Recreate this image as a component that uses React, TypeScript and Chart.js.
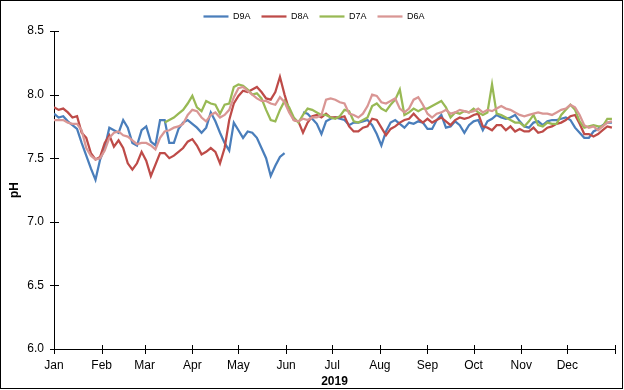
import React, { useEffect, useRef } from 'react';
import { Chart, registerables } from 'chart.js';

Chart.register(...registerables);

// ---- data ----
const STEP_DAYS = 3; // one reading every 3 days, starting Jan 1 (day 0)
const MONTH_LABELS = ['Jan', 'Feb', 'Mar', 'Apr', 'May', 'Jun', 'Jul', 'Aug', 'Sep', 'Oct', 'Nov', 'Dec'];
const MONTH_START_DAYS = [0, 31, 59, 90, 120, 151, 181, 212, 243, 273, 304, 334, 365];
const Y_TICKS = [6.0, 6.5, 7.0, 7.5, 8.0, 8.5];
const X_TITLE = '2019';
const Y_TITLE = 'pH';
const SERIES_NAMES = ['D9A', 'D8A', 'D7A', 'D6A'];

const D9A: (number | null)[] = [
  7.85, 7.82, 7.83, 7.79, 7.76, 7.73, 7.62, 7.52, 7.42, 7.33,
  7.49, 7.58, 7.74, 7.72, 7.70, 7.80, 7.74, 7.62, 7.60, 7.72,
  7.75, 7.63, 7.60, 7.80, 7.80, 7.62, 7.62, 7.73, 7.78, 7.80,
  7.77, 7.74, 7.70, 7.74, 7.86, 7.79, 7.70, 7.62, 7.56, 7.78,
  7.72, 7.66, 7.71, 7.70, 7.66, 7.58, 7.50, 7.36, 7.44, 7.51,
  7.54, null, null, null,
  7.86, 7.85, 7.81, 7.77, 7.69, 7.79, 7.81, 7.82, 7.81, 7.80,
  7.76, 7.78, 7.78, 7.79, 7.80, 7.76, 7.69, 7.60, 7.71, 7.78,
  7.80, 7.77, 7.74, 7.78, 7.77, 7.79, 7.78, 7.73, 7.73, 7.80,
  7.84, 7.74, 7.75, 7.79, 7.76, 7.70, 7.76, 7.79, 7.80, 7.72,
  7.79, 7.81, 7.84, 7.82, 7.81, 7.82, 7.84, 7.79, 7.75, 7.74,
  7.78, 7.79, 7.76, 7.79, 7.80, 7.80, 7.81, 7.82, 7.80, 7.74,
  7.70, 7.66, 7.66, 7.71, 7.73, 7.76, 7.78, 7.78,
];

const D8A: number[] = [
  7.90, 7.88, 7.89, 7.86, 7.82, 7.83, 7.70, 7.66, 7.54, 7.49,
  7.51, 7.62, 7.68, 7.59, 7.64, 7.58, 7.46, 7.41, 7.46, 7.55,
  7.48, 7.36, 7.45, 7.54, 7.54, 7.50, 7.52, 7.55, 7.58, 7.63,
  7.65, 7.60, 7.53, 7.55, 7.58, 7.55, 7.46, 7.58, 7.80, 7.93,
  7.99, 8.03, 8.02, 8.04, 8.06, 8.02, 7.97, 7.96, 8.02, 8.14,
  8.00, 7.88, 7.80, 7.79, 7.70, 7.78, 7.83, 7.84, 7.82, 7.85,
  7.82, 7.82, 7.82, 7.83, 7.75, 7.71, 7.71, 7.74, 7.75, 7.81,
  7.80, 7.74, 7.68, 7.73, 7.75, 7.78, 7.80, 7.81, 7.85, 7.81,
  7.78, 7.81, 7.78, 7.80, 7.82, 7.79, 7.76, 7.80, 7.82, 7.81,
  7.82, 7.84, 7.85, 7.75, 7.74, 7.72, 7.76, 7.76, 7.72, 7.75,
  7.71, 7.73, 7.71, 7.71, 7.74, 7.70, 7.71, 7.74, 7.75, 7.77,
  7.78, 7.80, 7.83, 7.84, 7.77, 7.69, 7.69, 7.67, 7.69, 7.72,
  7.75, 7.74,
];

const D7A: (number | null)[] = [
  null, null, null, null, null, null, null, null, null, null,
  null, null, null, null, null, null, null, null, null, null,
  null, null, null, null,
  7.78, 7.80, 7.82, 7.85, 7.88, 7.93, 7.99, 7.90, 7.87, 7.95,
  7.93, 7.92, 7.85, 7.92, 7.93, 8.06, 8.08, 8.07, 8.04, 8.00,
  8.01, 7.97, 7.88, 7.80, 7.79, 7.88, 7.95, 7.90, 7.82, 7.78,
  7.84, 7.89, 7.88, 7.86, 7.84, 7.84, 7.82, 7.81, 7.83, 7.88,
  7.87, 7.79, 7.78, 7.80, 7.82, 7.91, 7.93, 7.89, 7.87, 7.92,
  7.96, 8.04, 7.84, 7.86, 7.89, 7.87, 7.89, 7.89, 7.91, 7.93,
  7.95, 7.90, 7.82, 7.86, 7.85, 7.87, 7.86, 7.89, 7.86, 7.84,
  7.86, 8.08, 7.85, 7.84, 7.82, 7.80, 7.78, 7.78, 7.75, 7.79,
  7.84, 7.76, 7.75, 7.78, 7.77, 7.77, 7.84, 7.88, 7.92, 7.88,
  7.79, 7.74, 7.75, 7.76, 7.75, 7.75, 7.81, 7.81,
];

const D6A: number[] = [
  7.80, 7.80, 7.80, 7.78, 7.77, 7.77, 7.72, 7.58, 7.52, 7.49,
  7.50, 7.56, 7.66, 7.70, 7.71, 7.68, 7.67, 7.64, 7.61, 7.62,
  7.62, 7.60, 7.57, 7.66, 7.71, 7.72, 7.74, 7.75, 7.77, 7.84,
  7.88, 7.87, 7.82, 7.79, 7.84, 7.86, 7.82, 7.84, 7.88, 7.98,
  8.05, 8.06, 8.03, 8.00, 7.97, 7.95, 7.95, 7.93, 7.92, 7.98,
  7.94, 7.86, 7.80, 7.79, 7.81, 7.80, 7.82, 7.82, 7.84, 7.96,
  7.97, 7.96, 7.94, 7.93, 7.85, 7.84, 7.82, 7.85, 7.91, 8.00,
  7.99, 7.94, 7.93, 7.95, 7.97, 7.89, 7.86, 7.89, 7.96, 7.98,
  7.92, 7.85, 7.82, 7.85, 7.86, 7.88, 7.85, 7.86, 7.88, 7.87,
  7.86, 7.87, 7.89, 7.86, 7.88, 7.87, 7.89, 7.91, 7.89, 7.88,
  7.86, 7.84, 7.83, 7.84, 7.85, 7.86, 7.85, 7.85, 7.84, 7.86,
  7.88, 7.89, 7.92, 7.90, 7.84, 7.76, 7.74, 7.75, 7.72, 7.75,
  7.78, 7.79,
];

const SERIES_VALUES = [D9A, D8A, D7A, D6A];
const SERIES_COLORS = ['#4A7EBB', '#BE4B48', '#98B954', '#D99694'];

const FONT = "'Liberation Sans', Arial, sans-serif";

function toPoints(values: (number | null)[]) {
  return values.map((v, i) => ({ x: i * STEP_DAYS, y: v }));
}

const frameAndTicks = {
  id: 'frameAndTicks',
  afterDraw(chart: any) {
    const { ctx, chartArea, scales } = chart;
    ctx.save();
    ctx.strokeStyle = '#000';
    ctx.lineWidth = 1;
    ctx.beginPath();
    const left = Math.round(chartArea.left) + 0.5;
    const bottom = Math.round(chartArea.bottom) + 0.5;
    scales.y.ticks.forEach((t: any) => {
      const y = Math.round(scales.y.getPixelForValue(t.value)) + 0.5;
      ctx.moveTo(left - 4.5, y);
      ctx.lineTo(left + 4.5, y);
    });
    scales.x.ticks.forEach((t: any) => {
      const x = Math.round(scales.x.getPixelForValue(t.value)) + 0.5;
      ctx.moveTo(x, bottom - 4.5);
      ctx.lineTo(x, bottom + 4.5);
    });
    ctx.stroke();
    ctx.strokeRect(0.5, 0.5, 622, 388);
    ctx.restore();
  },
};

export default function App() {
  const canvasRef = useRef<HTMLCanvasElement | null>(null);

  useEffect(() => {
    document.body.style.margin = '0';
    const canvas = canvasRef.current;
    if (!canvas) return;
    const chart = new Chart(canvas, {
      type: 'line',
      data: {
        datasets: SERIES_NAMES.map((name, i) => ({
          label: name,
          data: toPoints(SERIES_VALUES[i]),
          borderColor: SERIES_COLORS[i],
          backgroundColor: SERIES_COLORS[i],
          borderWidth: 2.25,
          pointRadius: 0,
          tension: 0,
          spanGaps: false,
          fill: false,
          order: SERIES_NAMES.length - i,
        })),
      },
      options: {
        animation: false,
        responsive: false,
        maintainAspectRatio: false,
        layout: { padding: { top: 1, right: 7, left: 11, bottom: 0 } },
        plugins: {
          legend: {
            position: 'top',
            labels: {
              usePointStyle: true,
              pointStyle: 'line',
              pointStyleWidth: 25,
              padding: 11,
              color: '#000',
              font: { family: FONT, size: 9 },
              sort: (a: any, b: any) => a.datasetIndex - b.datasetIndex,
            },
          },
          tooltip: { enabled: false },
        },
        scales: {
          x: {
            type: 'linear',
            min: 0,
            max: 365,
            grid: { display: false, drawTicks: false },
            border: { display: true, color: '#000', width: 1 },
            afterBuildTicks: (scale: any) => {
              scale.ticks = MONTH_START_DAYS.map((v) => ({ value: v }));
            },
            afterFit: (scale: any) => {
              scale.height = 41;
            },
            ticks: {
              autoSkip: false,
              maxRotation: 0,
              padding: 9,
              color: '#000',
              font: { family: FONT, size: 12 },
              callback: (value: any) => {
                const idx = MONTH_START_DAYS.indexOf(Number(value));
                return idx >= 0 && idx < MONTH_LABELS.length ? MONTH_LABELS[idx] : '';
              },
            },
            title: {
              display: true,
              text: X_TITLE,
              color: '#000',
              font: { family: FONT, size: 12, weight: 'bold' },
              padding: { top: 0, bottom: 1 },
            },
          },
          y: {
            min: Y_TICKS[0],
            max: Y_TICKS[Y_TICKS.length - 1],
            grid: { display: false, drawTicks: false },
            border: { display: true, color: '#000', width: 1 },
            afterBuildTicks: (scale: any) => {
              scale.ticks = Y_TICKS.map((v) => ({ value: v }));
            },
            afterFit: (scale: any) => {
              scale.width = 43;
            },
            ticks: {
              padding: 10,
              color: '#000',
              font: { family: FONT, size: 12 },
              callback: (value: any) => Number(value).toFixed(1),
            },
            title: {
              display: true,
              text: Y_TITLE,
              color: '#000',
              font: { family: FONT, size: 12, weight: 'bold' },
              padding: { top: -4, bottom: 0 },
            },
          },
        },
      } as any,
      plugins: [frameAndTicks],
    });
    return () => chart.destroy();
  }, []);

  return (
    <div style={{ width: 624, height: 390, background: '#fff' }}>
      <canvas ref={canvasRef} width={624} height={390} style={{ display: 'block' }} />
    </div>
  );
}
